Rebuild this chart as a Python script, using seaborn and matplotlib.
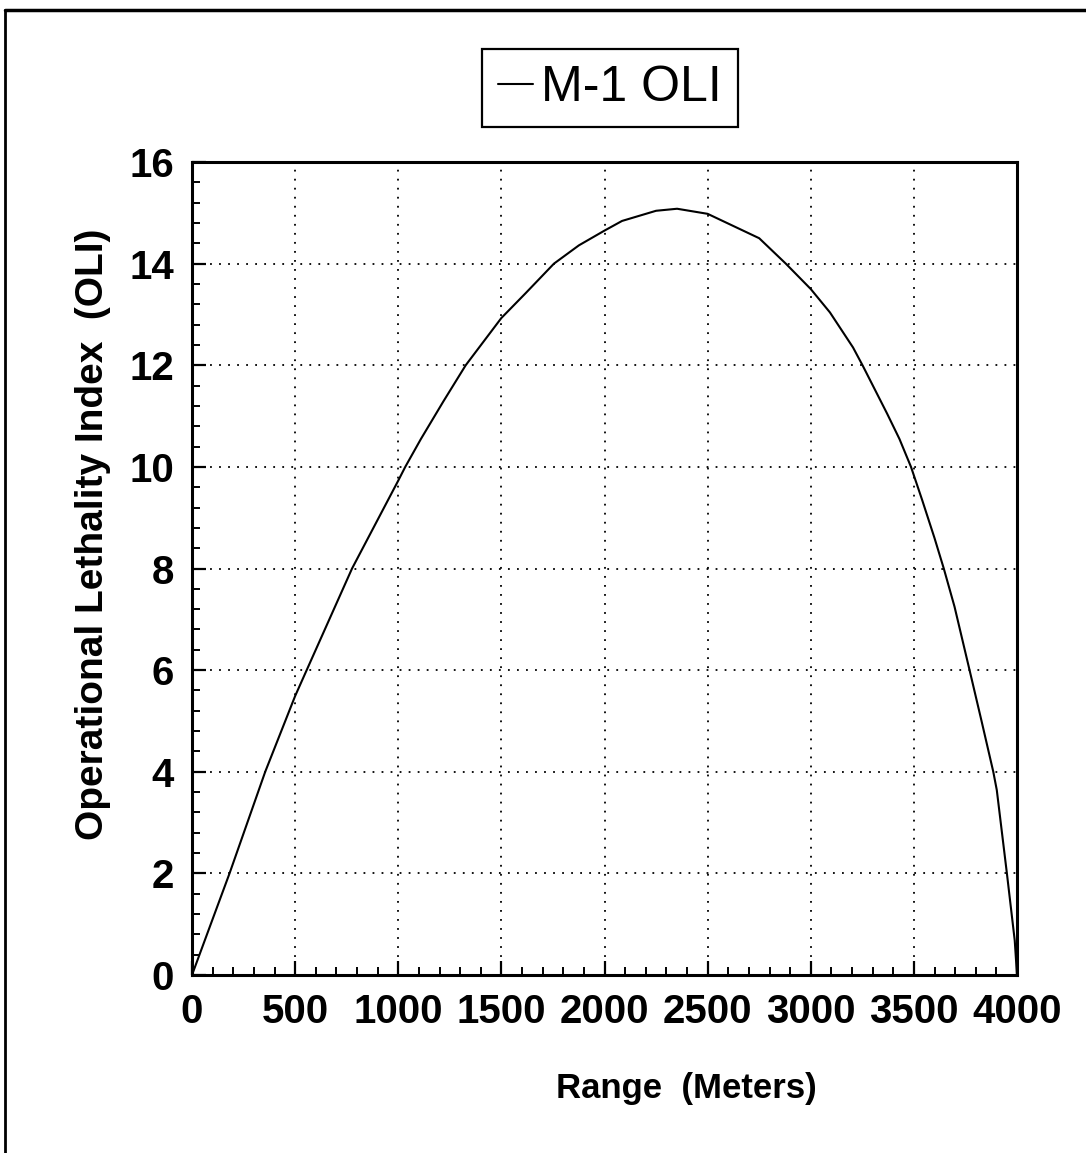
import matplotlib
matplotlib.use("Agg")
import matplotlib.pyplot as plt
import seaborn as sns
import pandas as pd
from matplotlib.ticker import MultipleLocator
from matplotlib.lines import Line2D

range_m = [0, 100, 182, 355, 500, 556, 776, 1000, 1034, 1110, 1219, 1327,
           1500, 1618, 1755, 1876, 2000, 2085, 2250, 2352, 2500, 2750, 2879,
           3000, 3093, 3205, 3251, 3370, 3430, 3486, 3540, 3600, 3645, 3697,
           3770, 3828, 3885, 3902, 3951, 3989, 4000]
oli = [0.0, 1.1, 2.0, 4.0, 5.49, 6.0, 8.0, 9.73, 10.0, 10.55, 11.29, 12.0,
       12.93, 13.42, 14.0, 14.36, 14.65, 14.84, 15.04, 15.08, 14.98, 14.5, 14.0,
       13.5, 13.04, 12.35, 12.0, 11.05, 10.55, 10.0, 9.35, 8.6, 8.0, 7.25,
       6.0, 5.0, 4.0, 3.64, 2.0, 0.68, 0.0]
series_name = "M-1 OLI"
x_ticks = [0, 500, 1000, 1500, 2000, 2500, 3000, 3500, 4000]
y_ticks = [0, 2, 4, 6, 8, 10, 12, 14, 16]

df = pd.DataFrame({"Range": range_m, "OLI": oli})

sns.set_theme(style="white")
plt.rcParams['font.family'] = ['Liberation Sans', 'DejaVu Sans']
for k in ["text.color", "axes.labelcolor", "xtick.color", "ytick.color",
          "axes.edgecolor"]:
    plt.rcParams[k] = "black"

fig = plt.figure(figsize=(10.86, 11.53), dpi=100)
ax = fig.add_axes([192/1086, 1-975/1153, (1017-192)/1086, (975-162)/1153])

sns.lineplot(data=df, x="Range", y="OLI", ax=ax, color="black", linewidth=1.5,
             sort=False, legend=False)

ax.set_xlim(0, 4000)
ax.set_ylim(0, 16)
ax.set_xticks(x_ticks)
ax.set_yticks(y_ticks)
ax.xaxis.set_minor_locator(MultipleLocator(100))
ax.yaxis.set_minor_locator(MultipleLocator(0.4))
ax.grid(True, which="major", color="black", linestyle=(0, (1, 4)), linewidth=1.3)

ax.tick_params(axis="both", which="major", direction="in", length=10, width=1.6,
               colors="black", labelsize=29, pad=13, bottom=True, left=True,
               top=False, right=False)
ax.tick_params(axis="both", which="minor", direction="in", length=5.5, width=1.4,
               bottom=True, left=True, top=False, right=False)
for lab in ax.get_xticklabels() + ax.get_yticklabels():
    lab.set_fontweight("bold")
    lab.set_color("black")

for s in ax.spines.values():
    s.set_visible(True)
    s.set_color("black")
    s.set_linewidth(2.2)

ax.set_xlabel("Range  (Meters)", fontsize=25, fontweight="bold", color="black")
ax.set_ylabel("Operational Lethality Index  (OLI)", fontsize=28,
              fontweight="bold", color="black")
ax.xaxis.set_label_coords((686-192)/825, -(1072-975)/813)
ax.yaxis.set_label_coords((111-192)/825, 1-(534-162)/813)

handle = Line2D([], [], color="black", linewidth=1.5)
leg = fig.legend([handle], [series_name], loc="center",
                 bbox_to_anchor=(610/1086, 1-88/1153),
                 prop={"size": 36},
                 frameon=True, fancybox=False, edgecolor="black", framealpha=1,
                 handlelength=0.7, handletextpad=0.15, borderpad=0.32,
                 borderaxespad=0)
leg.get_frame().set_linewidth(1.6)
for t in leg.get_texts():
    t.set_color("black")

# outer figure border (left and top)
fig.add_artist(Line2D([5/1086, 5/1086], [0.0, 1-10/1153], transform=fig.transFigure,
                      color="black", linewidth=2))
fig.add_artist(Line2D([5/1086, 1.0], [1-10/1153, 1-10/1153], transform=fig.transFigure,
                      color="black", linewidth=2.5))

fig.savefig("out.png", dpi=100, facecolor="white")
